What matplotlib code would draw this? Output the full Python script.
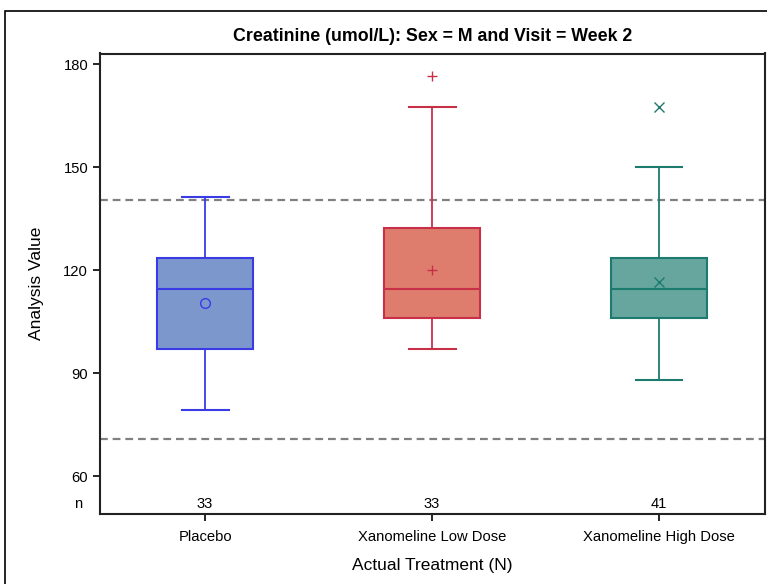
import numpy as np
import matplotlib as mpl
mpl.use("Agg")
import matplotlib.pyplot as plt
from matplotlib.patches import Rectangle

mpl.rcParams['font.family'] = ['Liberation Sans', 'DejaVu Sans']
mpl.rcParams['font.size'] = 10.6

# data
treatments = ["Placebo", "Xanomeline Low Dose", "Xanomeline High Dose"]
n_counts = [33, 33, 41]
whisker_low = [79.4, 97.1, 88.1]
q1 = [97.2, 106.0, 106.0]
median = [114.6, 114.6, 114.6]
q3 = [123.6, 132.3, 123.5]
whisker_high = [141.2, 167.5, 150.1]
means = [110.4, 120.2, 116.6]
outliers = [[], [176.5], [167.5]]
ref_low = 70.9
ref_high = 140.6
yticks = [60, 90, 120, 150, 180]

edge_colors = ["#3b3be6", "#c8304a", "#1d7a6e"]
fill_colors = ["#7b97cc", "#de7d6d", "#66a69e"]
mean_markers = ["o", "+", "x"]

fig = plt.figure(figsize=(7.67, 5.84), dpi=100)
ax = fig.add_axes([100/767, 1 - 513.5/584, 665/767, 460/584])

positions = np.arange(1, len(treatments) + 1)
for i, pos in enumerate(positions):
    stats = [dict(med=median[i], q1=q1[i], q3=q3[i], whislo=whisker_low[i],
                  whishi=whisker_high[i], mean=means[i], fliers=outliers[i])]
    c = edge_colors[i]
    ax.bxp(stats, positions=[pos], widths=0.42, patch_artist=True, showmeans=True,
           boxprops=dict(facecolor=fill_colors[i], edgecolor=c, linewidth=1.5),
           medianprops=dict(color=c, linewidth=1.5),
           whiskerprops=dict(color=c, linewidth=1.3),
           capprops=dict(color=c, linewidth=1.5),
           capwidths=0.207,
           meanprops=dict(marker=mean_markers[i], markerfacecolor='none',
                          markeredgecolor=c, markersize=7, markeredgewidth=1),
           flierprops=dict(marker=mean_markers[i], markerfacecolor='none',
                           markeredgecolor=c, markersize=7, markeredgewidth=1))
    ax.text(pos, 52.0, str(n_counts[i]), ha='center', va='center')

ax.axhline(ref_high, color='#808080', linestyle=(0, (3.5, 2.2)), linewidth=1.6, zorder=0)
ax.axhline(ref_low, color='#808080', linestyle=(0, (3.5, 2.2)), linewidth=1.6, zorder=0)

ax.set_xlim(0.537, 3.467)
ax.set_ylim(49.2, 183.1)
ax.set_yticks(yticks)
ax.set_xticks(positions)
ax.set_xticklabels(treatments)
ax.tick_params(axis='both', length=5, width=1.2)
ax.tick_params(axis='x', pad=7)
ax.text(-0.027, 52.0, "n", transform=ax.get_yaxis_transform(), ha='right', va='center')

for s in ax.spines.values():
    s.set_linewidth(1.5)
    s.set_color('#222222')

ax.set_xlabel("Actual Treatment (N)", fontsize=12.5, labelpad=10)
ax.set_ylabel("Analysis Value", fontsize=12.5, labelpad=14)
ax.set_title("Creatinine (umol/L): Sex = M and Visit = Week 2", fontsize=12.8, fontweight='bold', pad=9)

# outer frame like the SAS graph border
fig.patches.append(Rectangle((5/767, -0.1), 1.2, 1 - 11/584 + 0.1, transform=fig.transFigure,
                             fill=False, edgecolor='black', linewidth=1.2))

fig.savefig("out.png", dpi=100)
